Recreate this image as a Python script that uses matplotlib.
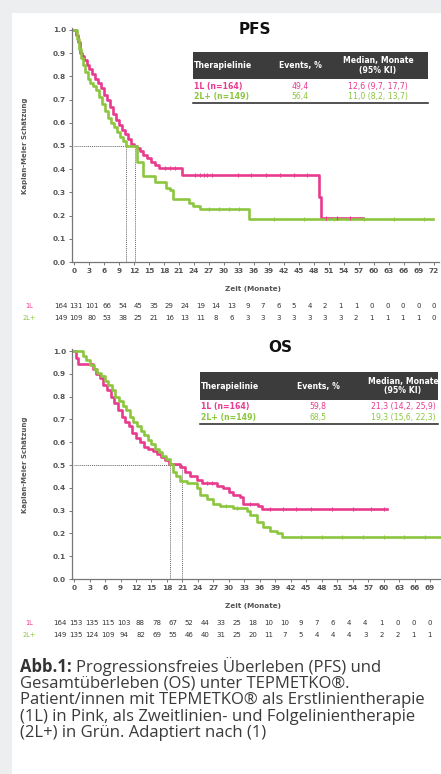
import numpy as np
import matplotlib
matplotlib.use("Agg")
import matplotlib.pyplot as plt
from matplotlib.patches import Rectangle
from matplotlib.transforms import blended_transform_factory

W, H = 441, 774
PINK = "#e83a8e"
GREEN = "#8cc63f"
GRAY = "#555555"

# ---- PFS data ----
pfs_1l_t = [0, 0.4, 0.8, 1.2, 1.6, 2.0, 2.6, 3.0, 3.6, 4.2, 4.8, 5.4, 6.0, 6.6, 7.2, 7.8,
            8.4, 9.0, 9.6, 10.2, 10.8, 11.4, 12.0, 12.6, 13.2, 13.8, 14.6, 15.4, 16.2, 17.0,
            21.6, 49.0, 49.4, 57.8]
pfs_1l_s = [1.0, 0.98, 0.95, 0.90, 0.89, 0.87, 0.85, 0.83, 0.81, 0.79, 0.77, 0.75, 0.72, 0.70,
            0.67, 0.64, 0.61, 0.59, 0.57, 0.55, 0.53, 0.51, 0.50, 0.49, 0.48, 0.46, 0.45, 0.43,
            0.42, 0.405, 0.375, 0.28, 0.19, 0.19]
pfs_1l_cens = [18.2, 19.2, 20.2, 24.2, 25.2, 25.9, 26.5, 27.5, 32.7, 35.3, 38.4, 41.2, 43.9,
               46.5, 50.4, 52.6, 55.2]

pfs_2l_t = [0, 0.6, 1.0, 1.4, 1.8, 2.2, 2.8, 3.2, 3.8, 4.4, 5.0, 5.6, 6.2, 6.8, 7.4, 8.0,
            8.6, 9.2, 9.8, 10.4, 12.6, 13.8, 16.2, 18.3, 19.2, 19.8, 22.9, 23.8, 25.2, 34.9, 71.8]
pfs_2l_s = [1.0, 0.96, 0.92, 0.88, 0.85, 0.82, 0.79, 0.77, 0.76, 0.74, 0.71, 0.68, 0.65, 0.62,
            0.60, 0.58, 0.56, 0.54, 0.52, 0.50, 0.43, 0.37, 0.345, 0.32, 0.31, 0.27, 0.255,
            0.24, 0.23, 0.185, 0.185]
pfs_2l_cens = [27.0, 29.0, 31.0, 33.0, 40.0, 46.0, 52.0, 58.0, 64.0, 70.0]

pfs_medians = [12.2, 10.4]

pfs_risk_1l = [164, 131, 101, 66, 54, 45, 35, 29, 24, 19, 14, 13, 9, 7, 6, 5, 4, 2, 1, 1, 0, 0, 0, 0, 0]
pfs_risk_2l = [149, 109, 80, 53, 38, 25, 21, 16, 13, 11, 8, 6, 3, 3, 3, 3, 3, 3, 3, 2, 1, 1, 1, 1, 0]

pfs_table = [["1L (n=164)", "49,4", "12,6 (9,7, 17,7)"],
             ["2L+ (n=149)", "56,4", "11,0 (8,2, 13,7)"]]

# ---- OS data ----
os_1l_t = [0, 0.3, 0.8, 3.7, 4.3, 5.0, 5.7, 6.4, 7.1, 7.8, 8.5, 9.2, 9.9, 10.6, 11.3, 12.0,
           12.8, 13.6, 14.4, 15.2, 16.0, 16.8, 17.6, 18.4, 20.5, 21.5, 22.5, 23.8, 24.8, 27.7,
           28.9, 30.0, 30.8, 32.2, 32.8, 35.7, 36.4, 60.6]
os_1l_s = [1.0, 0.97, 0.945, 0.92, 0.90, 0.88, 0.85, 0.83, 0.80, 0.77, 0.74, 0.71, 0.69, 0.67,
           0.64, 0.62, 0.60, 0.58, 0.57, 0.56, 0.55, 0.535, 0.52, 0.505, 0.49, 0.47, 0.45,
           0.435, 0.42, 0.41, 0.40, 0.38, 0.37, 0.36, 0.33, 0.32, 0.305, 0.305]
os_1l_cens = [25.8, 26.8, 34.0, 38.0, 40.5, 43.0, 46.0, 50.0, 54.0, 57.5, 60.0]

os_2l_t = [0, 1.7, 2.4, 3.1, 3.8, 4.5, 5.2, 5.9, 6.6, 7.3, 8.0, 8.7, 9.4, 10.1, 10.8, 11.5,
           12.2, 12.9, 13.6, 14.3, 15.0, 15.7, 16.4, 17.1, 17.8, 18.6, 19.2, 19.8, 20.5, 21.9,
           23.8, 24.4, 25.8, 26.9, 28.3, 30.8, 33.5, 34.1, 35.5, 36.7, 38.0, 39.3, 40.3, 73.0]
os_2l_s = [1.0, 0.98, 0.96, 0.94, 0.92, 0.905, 0.89, 0.87, 0.85, 0.83, 0.80, 0.78, 0.76, 0.74,
           0.71, 0.69, 0.67, 0.65, 0.63, 0.61, 0.59, 0.57, 0.555, 0.54, 0.525, 0.505, 0.47,
           0.45, 0.43, 0.42, 0.40, 0.37, 0.35, 0.33, 0.32, 0.31, 0.30, 0.28, 0.25, 0.23, 0.21,
           0.20, 0.185, 0.185]
os_2l_cens = [29.5, 31.5, 44.0, 48.0, 52.0, 56.0, 60.0, 64.0, 68.0]

os_medians = [20.9, 18.6]

os_risk_1l = [164, 153, 135, 115, 103, 88, 78, 67, 52, 44, 33, 25, 18, 10, 10, 9, 7, 6, 4, 4, 1, 0, 0, 0, 0]
os_risk_2l = [149, 135, 124, 109, 94, 82, 69, 55, 46, 40, 31, 25, 20, 11, 7, 5, 4, 4, 4, 3, 2, 2, 1, 1, 1]

os_table = [["1L (n=164)", "59,8", "21,3 (14,2, 25,9)"],
            ["2L+ (n=149)", "68,5", "19,3 (15,6, 22,3)"]]

caption = ["Progressionsfreies Überleben (PFS) und",
           "Gesamtüberleben (OS) unter TEPMETKO®.",
           "Patient/innen mit TEPMETKO® als Erstlinientherapie",
           "(1L) in Pink, als Zweitlinien- und Folgelinientherapie",
           "(2L+) in Grün. Adaptiert nach (1)"]


def fx(x):
    return x / W


def fy(y):
    return 1 - y / H


fig = plt.figure(figsize=(W / 100, H / 100), dpi=100)
fig.patch.set_facecolor("#eceef0")
fig.patches.append(Rectangle((fx(12), 0), 1, fy(13), transform=fig.transFigure,
                             facecolor="white", edgecolor="none", zorder=-5))


def step_at(t, s, v):
    return s[np.searchsorted(t, v, side="right") - 1]


def km_panel(y0, y1, pxm, curves, medians, risk, title, title_xy, tab, tab_box, cols):
    # y0: pixel of 0.0, y1: pixel of 1.0, pxm: pixels per month
    left = 71.5
    xmin, xmax = -0.5, 73.0
    h = (y0 - y1) * 1.01
    ax = fig.add_axes([fx(left), fy(y0), (xmax - xmin) * pxm / W, h / H])
    ax.set_zorder(2)
    ax.set_xlim(xmin, xmax)
    ax.set_ylim(0, 1.01)
    for t, s, cens, c in curves:
        ax.step(t, s, where="post", color=c, lw=1.9, zorder=3)
        ax.plot(cens, [step_at(t, s, v) for v in cens], ls="none", marker="|", ms=3.5,
                mew=0.8, color=c, zorder=4)
    ax.plot([0, max(medians)], [0.5, 0.5], ls=(0, (1, 1)), color="#666666", lw=0.7, zorder=2)
    for m in medians:
        ax.plot([m, m], [0, 0.5], ls=(0, (1, 1)), color="#666666", lw=0.7, zorder=2)
    for sp in ["top", "right"]:
        ax.spines[sp].set_visible(False)
    for sp in ["left", "bottom"]:
        ax.spines[sp].set_color("#777777")
        ax.spines[sp].set_linewidth(0.9)
    ax.set_xticks(np.arange(0, 73, 3))
    ax.set_yticks(np.arange(0, 1.01, 0.1))
    ax.set_yticklabels(["%.1f" % v for v in np.arange(0, 1.01, 0.1)])
    ax.tick_params(length=2.5, width=0.7, color="#777777", labelsize=5.3, labelcolor=GRAY, pad=1.5)
    for lb in ax.get_xticklabels() + ax.get_yticklabels():
        lb.set_fontweight("bold")
    ax.set_facecolor("none")
    fig.text(fx(253), fy(y0 + 27), "Zeit (Monate)", ha="center", va="center",
             fontsize=5.2, fontweight="bold", color=GRAY)
    fig.text(fx(25), fy((y0 + y1) / 2), "Kaplan-Meier Schätzung", rotation=90, ha="center",
             va="center", fontsize=5, fontweight="bold", color=GRAY)
    # at-risk rows
    tr = blended_transform_factory(ax.transData, fig.transFigure)
    pos = np.linspace(-2.7, 72.0, 25)
    for k, (lab, vals, c) in enumerate(zip(["1L", "2L+"], risk, [PINK, GREEN])):
        yy = fy(y0 + 44 + 12 * k)
        fig.text(fx(29), yy, lab, ha="center", va="center", fontsize=4.8, color=c)
        for p, v in zip(pos, vals):
            ax.text(p, yy, str(v), transform=tr, ha="center", va="center", fontsize=5,
                    color="#333333", clip_on=False)
    # title and table
    fig.text(fx(title_xy[0]), fy(title_xy[1]), title, ha="center", va="center",
             fontsize=11, fontweight="bold", color="#111111")
    xl, xr, yt, yb = tab_box
    fig.patches.append(Rectangle((fx(xl), fy(yb)), (xr - xl) / W, (yb - yt) / H,
                                 transform=fig.transFigure, facecolor="#3c3c3c",
                                 edgecolor="none", zorder=1))
    ym = (yt + yb) / 2
    fs = 5.6
    fig.text(fx(xl + 1), fy(ym), "Therapielinie", ha="left", va="center", fontsize=fs,
             fontweight="bold", color="white")
    fig.text(fx(cols[0]), fy(ym), "Events, %", ha="center", va="center", fontsize=fs,
             fontweight="bold", color="white")
    fig.text(fx(cols[1]), fy(ym), "Median, Monate\n(95% KI)", ha="center", va="center",
             fontsize=fs, fontweight="bold", color="white", linespacing=1.1)
    for k, (row, c) in enumerate(zip(tab, [PINK, GREEN])):
        yy = fy(yb + 7 + 10.5 * k)
        fig.text(fx(xl + 1), yy, row[0], ha="left", va="center", fontsize=fs, fontweight="bold", color=c)
        fig.text(fx(cols[0]), yy, row[1], ha="center", va="center", fontsize=fs, color=c)
        fig.text(fx(cols[1]), yy, row[2], ha="center", va="center", fontsize=fs, color=c)
    fig.add_artist(plt.Line2D([fx(xl), fx(xr)], [fy(yb + 24), fy(yb + 24)], color="#222222", lw=1.1))
    return ax


km_panel(262, 30, 5.0,
         [(pfs_1l_t, pfs_1l_s, pfs_1l_cens, PINK), (pfs_2l_t, pfs_2l_s, pfs_2l_cens, GREEN)],
         pfs_medians, [pfs_risk_1l, pfs_risk_2l], "PFS", (255, 29), pfs_table,
         (193, 428, 52, 79), (300, 378))

km_panel(579, 351, 5.16,
         [(os_1l_t, os_1l_s, os_1l_cens, PINK), (os_2l_t, os_2l_s, os_2l_cens, GREEN)],
         os_medians, [os_risk_1l, os_risk_2l], "OS", (280, 348), os_table,
         (200, 438, 372, 400), (318, 403))

# caption
cap_font = ["Open Sans", "DejaVu Sans"]
cap_size = 12
y = 667
t0 = fig.text(fx(20), fy(y), "Abb.1:", ha="left", va="center", fontsize=cap_size,
              fontweight="bold", color="#333333", family=cap_font)
fig.canvas.draw()
bb = t0.get_window_extent()
fig.text(fx(bb.x1 + 4), fy(y), caption[0], ha="left", va="center", fontsize=cap_size,
         color="#3a3a3a", family=cap_font)
for line in caption[1:]:
    y += 16.6
    fig.text(fx(20), fy(y), line, ha="left", va="center", fontsize=cap_size, color="#3a3a3a",
             family=cap_font)

fig.savefig("out.png", dpi=100, facecolor=fig.get_facecolor())
